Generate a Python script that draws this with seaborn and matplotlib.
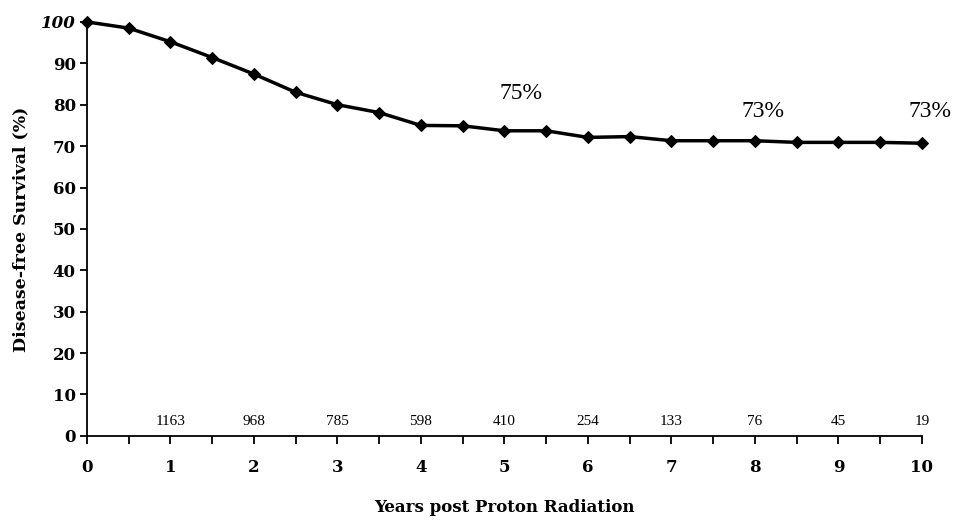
#!/usr/bin/env python3
"""Disease-free survival after proton radiation (Kaplan-Meier style curve)."""

import matplotlib
matplotlib.use('Agg')

import matplotlib.pyplot as plt
import seaborn as sns
import pandas as pd

years = [0, 0.5, 1, 1.5, 2, 2.5, 3, 3.5, 4, 4.5, 5,
         5.5, 6, 6.5, 7, 7.5, 8, 8.5, 9, 9.5, 10]
survival = [100, 98.5, 95.2, 91.4, 87.4, 83.0, 80.0, 78.1, 75.0, 74.9, 73.7,
            73.7, 72.1, 72.3, 71.3, 71.3, 71.3, 70.9, 70.9, 70.9, 70.7]

risk_years = [1, 2, 3, 4, 5, 6, 7, 8, 9, 10]
at_risk = [1163, 968, 785, 598, 410, 254, 133, 76, 45, 19]

callouts = ['75%', '73%', '73%']
callout_x = [5.2, 8.1, 10.1]
callout_y = [82.6, 78.3, 78.3]

xticks = list(range(0, 11))
yticks = list(range(0, 101, 10))

df = pd.DataFrame({'years': years, 'survival': survival})

sns.set_theme(style='white')
plt.rcParams['font.family'] = ['Liberation Serif', 'DejaVu Serif']
BOLD = ['DejaVu Serif']

fig = plt.figure(figsize=(9.63, 5.22), dpi=100)
ax = fig.add_axes([0.0903, 0.165, 0.867, 0.793])

sns.lineplot(data=df, x='years', y='survival', ax=ax, color='black',
             linewidth=2.5, marker='D', markersize=6.5,
             markeredgecolor='black', markerfacecolor='black', clip_on=False)

ax.set_xlim(0, 10)
ax.set_ylim(0, 100)

for sp in ['top', 'right']:
    ax.spines[sp].set_visible(False)
for sp in ['left', 'bottom']:
    ax.spines[sp].set_color('black')
    ax.spines[sp].set_linewidth(1.3)

ax.set_xticks(xticks)
ax.set_xticks([t + 0.5 for t in xticks[:-1]], minor=True)
ax.set_yticks(yticks)
ax.tick_params(axis='x', which='both', direction='out', length=6, width=1.3,
               color='black', bottom=True)
ax.tick_params(axis='x', which='major', pad=11)
ax.tick_params(axis='y', direction='out', length=5, width=1.3, color='black',
               left=True, pad=3)
for lab in ax.get_xticklabels() + ax.get_yticklabels():
    lab.set_fontweight('bold')
    lab.set_family(BOLD)
    lab.set_fontsize(12)
    lab.set_color('black')
ax.get_yticklabels()[-1].set_fontstyle('italic')

ax.set_xlabel('Years post Proton Radiation', fontsize=12, fontweight='bold',
              family=BOLD, color='black', labelpad=16)
ax.set_ylabel('Disease-free Survival (%)', fontsize=12.5, fontweight='bold',
              family=BOLD, color='black', labelpad=8)

# numbers at risk
for x, n in zip(risk_years, at_risk):
    ax.text(x, 3.5, str(n), ha='center', va='center', fontsize=11,
            color='black')

for s, x, y in zip(callouts, callout_x, callout_y):
    ax.text(x, y, s, ha='center', va='center', fontsize=17, color='black',
            clip_on=False)

ax.grid(False)
fig.savefig('out.png', dpi=100)
